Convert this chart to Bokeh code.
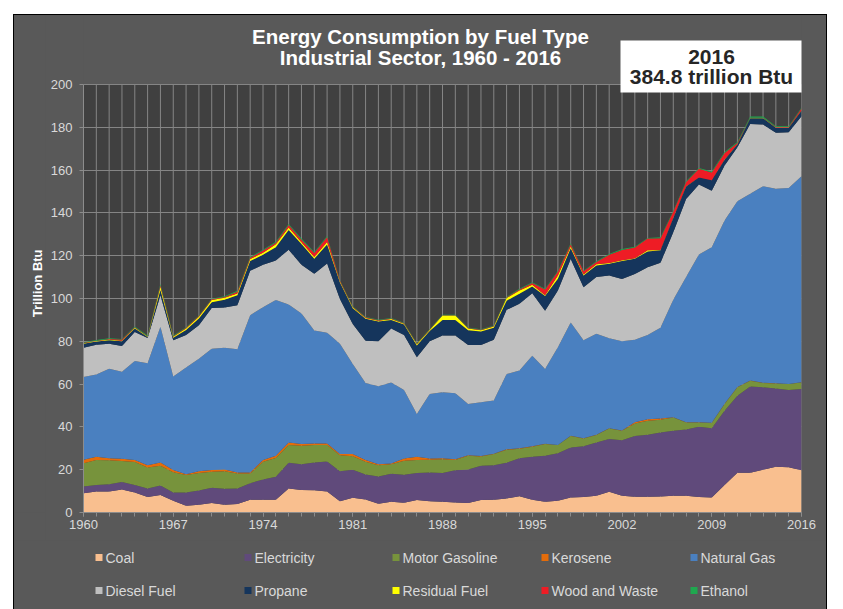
import math
from bokeh.plotting import figure
from bokeh.models import ColumnDataSource, Range1d, FixedTicker, Label, BoxAnnotation, Spacer
from bokeh.layouts import column, row
from bokeh.core.properties import value
from bokeh.embed import file_html
from bokeh.resources import INLINE

years = list(range(1960, 2017))
x_tick_years = list(range(1960, 2017, 7))
y_ticks = list(range(0, 201, 20))

coal = [9.0, 9.8, 9.8, 10.7, 9.4, 7.3, 8.2, 5.5, 3.1, 3.6,
        4.4, 3.6, 4.0, 5.9, 5.9, 5.9, 11.2, 10.5, 10.4, 9.8,
        5.2, 6.9, 6.1, 4.1, 5.0, 4.5, 5.8, 5.3, 5.0, 4.7,
        4.4, 5.8, 5.9, 6.6, 7.6, 5.9, 5.0, 5.5, 7.0, 7.3,
        7.8, 9.7, 7.8, 7.4, 7.4, 7.5, 7.8, 7.8, 7.3, 7.0,
        12.8, 18.6, 18.6, 20.0, 21.4, 21.1, 19.8]
electricity = [3.2, 3.0, 3.4, 3.5, 3.5, 3.9, 4.4, 3.9, 6.3, 6.7,
               7.2, 7.5, 7.2, 7.8, 9.5, 10.8, 12.0, 12.1, 13.0, 14.0,
               14.1, 13.1, 11.7, 12.7, 13.1, 13.1, 12.6, 13.4, 13.4, 15.1,
               15.7, 16.0, 16.2, 16.6, 17.8, 20.1, 21.5, 22.2, 23.4, 23.6,
               24.9, 24.6, 26.0, 28.4, 28.9, 29.9, 30.4, 31.0, 32.8, 32.4,
               34.7, 36.0, 40.3, 38.5, 36.6, 36.2, 37.9]
motor_gasoline = [10.8, 11.7, 11.2, 9.9, 10.7, 9.8, 9.2, 9.4, 8.1, 8.2,
                  7.4, 8.2, 7.0, 4.5, 8.3, 8.8, 8.3, 8.6, 8.1, 7.7,
                  7.5, 6.3, 5.9, 5.3, 4.5, 6.6, 6.1, 6.0, 6.5, 4.7,
                  6.4, 4.4, 5.2, 6.1, 4.4, 4.7, 5.5, 3.8, 5.4, 3.7,
                  3.5, 5.0, 4.4, 5.8, 6.6, 5.9, 6.2, 3.3, 2.0, 2.4,
                  3.2, 3.9, 2.7, 2.0, 2.3, 2.7, 3.1]
kerosene = [1.6, 1.5, 1.0, 1.0, 0.9, 1.1, 1.6, 1.1, 0.4, 0.8,
            0.9, 0.8, 0.5, 0.5, 0.8, 1.0, 1.2, 0.8, 0.8, 0.8,
            0.5, 1.0, 0.8, 0.5, 0.3, 1.0, 1.5, 0.5, 0.4, 0.4,
            0.3, 0.2, 0.2, 0.2, 0.2, 0.2, 0.1, 0.1, 0.1, 0.1,
            0.1, 0.1, 0.1, 0.6, 0.7, 0.6, 0.1, 0.1, 0.1, 0.1,
            0.1, 0.1, 0.1, 0.1, 0.1, 0.1, 0.1]
natural_gas = [38.7, 38.5, 41.8, 40.7, 46.3, 47.7, 63.4, 43.6, 49.9, 52.5,
               56.6, 56.9, 57.6, 73.5, 71.4, 72.8, 64.5, 61.0, 52.7, 51.7,
               51.5, 42.1, 36.0, 36.4, 37.9, 32.1, 20.0, 30.2, 30.9, 30.8,
               23.9, 25.1, 24.8, 35.2, 36.3, 42.4, 35.0, 45.6, 52.9, 45.8,
               47.2, 42.0, 41.7, 38.5, 39.4, 42.4, 54.9, 67.8, 78.4, 82.1,
               85.7, 86.8, 87.3, 91.8, 90.9, 91.5, 96.2]
diesel_fuel = [13.7, 13.9, 11.7, 12.0, 13.6, 11.8, 14.7, 17.0, 15.2, 15.7,
               19.1, 18.8, 20.5, 20.8, 19.9, 18.5, 25.6, 22.8, 26.6, 32.3,
               21.0, 18.7, 19.8, 21.0, 25.2, 25.7, 26.5, 24.6, 26.5, 27.0,
               27.6, 26.8, 28.4, 30.0, 31.2, 29.2, 27.2, 26.5, 29.7, 24.7,
               26.5, 29.3, 29.1, 30.7, 31.6, 30.4, 31.6, 36.5, 32.7, 26.4,
               25.6, 25.3, 32.6, 28.9, 26.2, 26.1, 28.1]
propane = [1.8, 1.5, 1.6, 2.2, 1.6, 0.4, 2.5, 1.2, 2.3, 3.1,
           2.6, 3.6, 4.7, 4.5, 4.6, 6.2, 9.2, 9.7, 7.0, 8.9,
           7.7, 7.4, 10.2, 9.2, 4.0, 4.8, 5.5, 4.8, 7.3, 7.3,
           6.9, 6.3, 5.6, 4.3, 4.7, 3.1, 6.9, 5.5, 5.0, 5.5,
           5.4, 5.5, 8.4, 7.2, 7.4, 5.8, 6.6, 5.8, 3.2, 4.8,
           2.7, 1.3, 2.6, 2.9, 2.3, 2.1, 2.5]
residual_fuel = [0.3, 0.2, 0.3, 0.3, 0.3, 0.2, 1.5, 0.4, 0.7, 0.9,
                 1.1, 0.9, 0.8, 0.9, 1.0, 1.3, 1.2, 0.8, 0.8, 1.2,
                 0.5, 0.4, 0.4, 0.4, 0.4, 0.4, 0.6, 0.5, 2.0, 2.0,
                 0.8, 0.6, 0.6, 1.2, 1.5, 0.8, 0.3, 1.6, 0.8, 0.5,
                 0.6, 0.4, 0.4, 0.2, 0.5, 0.2, 0.1, 0.1, 0.1, 0.1,
                 0.1, 0.1, 0.1, 0.1, 0.1, 0.1, 0.1]
wood_and_waste = [0.2, 0.2, 0.3, 0.5, 0.3, 0.2, 0.7, 0.3, 0.3, 0.3,
                  0.3, 0.4, 0.9, 0.6, 1.0, 0.7, 1.1, 1.2, 1.9, 2.3,
                  0.4, 0.2, 0.3, 0.2, 0.2, 0.2, 0.2, 0.2, 0.2, 0.2,
                  0.2, 0.2, 0.2, 0.3, 0.5, 0.8, 2.7, 1.8, 1.1, 1.5,
                  1.1, 3.9, 4.8, 5.0, 5.5, 5.5, 2.9, 2.0, 4.0, 3.6,
                  3.1, 0.6, 0.2, 0.2, 0.2, 0.2, 1.1]
ethanol = [0.3, 0.3, 0.3, 0.3, 0.3, 0.3, 0.6, 0.3, 0.3, 0.3,
           0.3, 0.3, 0.4, 0.4, 0.4, 0.5, 0.5, 0.5, 0.4, 0.5,
           0.3, 0.3, 0.3, 0.3, 0.3, 0.3, 0.3, 0.3, 0.2, 0.2,
           0.2, 0.2, 0.3, 0.3, 0.3, 0.4, 0.3, 0.4, 0.4, 0.3,
           0.3, 0.3, 0.4, 0.4, 0.3, 0.4, 0.4, 0.4, 0.4, 0.4,
           0.4, 0.4, 0.5, 0.5, 0.4, 0.4, 0.4]

series_names = ["Coal", "Electricity", "Motor Gasoline", "Kerosene", "Natural Gas",
                "Diesel Fuel", "Propane", "Residual Fuel", "Wood and Waste", "Ethanol"]
series_keys = ["coal", "electricity", "motor_gasoline", "kerosene", "natural_gas",
               "diesel_fuel", "propane", "residual_fuel", "wood_and_waste", "ethanol"]
series_colors = ["#F9BF8F", "#604A7B", "#77933C", "#E46C0A", "#4A80C0",
                 "#BFBFBF", "#15355C", "#FFFF00", "#EE1C25", "#1FA84F"]

title_lines = ["Energy Consumption by Fuel Type", "Industrial Sector, 1960 - 2016"]
box_lines = ["2016", "384.8 trillion Btu"]
y_axis_title = "Trillion Btu"

source = ColumnDataSource(dict(
    year=years, coal=coal, electricity=electricity, motor_gasoline=motor_gasoline,
    kerosene=kerosene, natural_gas=natural_gas, diesel_fuel=diesel_fuel,
    propane=propane, residual_fuel=residual_fuel, wood_and_waste=wood_and_waste,
    ethanol=ethanol))

# ---- layout geometry (page pixels) ----
OX, OY = 14, 15                 # top-left of the chart panel
PANEL_R = 826
STRIP_R = 45                    # right edge of the y-title strip
FRAME_L, FRAME_R, FRAME_T, FRAME_B = 83, 801, 84, 512
MAIN_BOTTOM = 540
PAGE_BOTTOM = 609

def X(px):
    return years[0] + (px - FRAME_L) * (years[-1] - years[0]) / (FRAME_R - FRAME_L)

def Y(py):
    return (FRAME_B - py) * y_ticks[-1] / (FRAME_B - FRAME_T)

PANEL_BG = "#595959"
PLOT_BG = "#404040"
GRID = "#858585"
AXIS = "#8C8C8C"
TICK_TXT = "#D9D9D9"
FONT = "Liberation Sans"

def plain(fig):
    fig.title.visible = False
    fig.background_fill_color = PANEL_BG
    fig.border_fill_color = PANEL_BG
    fig.outline_line_color = None

# ---- main chart ----
p = figure(width=PANEL_R - STRIP_R, height=MAIN_BOTTOM - OY,
           x_range=Range1d(years[0], years[-1]), y_range=Range1d(0, Y(OY)),
           output_backend="svg", toolbar_location=None,
           min_border_left=FRAME_L - STRIP_R, min_border_top=0,
           min_border_right=PANEL_R - FRAME_R, min_border_bottom=MAIN_BOTTOM - FRAME_B)
plain(p)

p.quad(left=years[0], right=years[-1], bottom=y_ticks[0], top=y_ticks[-1],
       fill_color=PLOT_BG, line_color=None, level="image")
p.segment(x0=years, y0=[y_ticks[0]] * len(years), x1=years, y1=[y_ticks[-1]] * len(years),
          line_color=GRID, line_width=1, level="underlay")

p.varea_stack(stackers=series_keys, x="year", color=series_colors, source=source)

p.xaxis.ticker = FixedTicker(ticks=x_tick_years, minor_ticks=years)
p.yaxis.ticker = FixedTicker(ticks=y_ticks)
p.yaxis.bounds = (y_ticks[0], y_ticks[-1])
p.xgrid.visible = False
p.ygrid.ticker = FixedTicker(ticks=y_ticks)
p.ygrid.grid_line_color = GRID
p.ygrid.grid_line_width = 1

for ax in (p.xaxis, p.yaxis):
    ax.axis_line_color = AXIS
    ax.major_tick_line_color = AXIS
    ax.minor_tick_line_color = AXIS
    ax.major_tick_in = 0
    ax.major_tick_out = 4
    ax.minor_tick_in = 0
    ax.minor_tick_out = 4
    ax.major_label_text_color = TICK_TXT
    ax.major_label_text_font = FONT
    ax.major_label_text_font_size = "13px"
p.yaxis.minor_tick_line_color = None
p.xaxis.major_label_standoff = 3
p.yaxis.major_label_standoff = 7

for txt, py in zip(title_lines, [36, 57]):
    p.add_layout(Label(x=X(420), y=Y(py), text=txt, text_align="center", text_baseline="middle",
                       text_font=FONT, text_font_style="bold", text_font_size="20.5px",
                       text_color="#FFFFFF"))

p.add_layout(BoxAnnotation(left=X(620), right=X(803), top=Y(40), bottom=Y(92),
                           fill_color="#FFFFFF", fill_alpha=1.0, line_color=None))
for txt, py in zip(box_lines, [56, 76]):
    p.add_layout(Label(x=X(711), y=Y(py), text=txt, text_align="center", text_baseline="middle",
                       text_font=FONT, text_font_style="bold", text_font_size="21px",
                       text_color="#262626"))

# ---- y-axis title strip (page-pixel coordinates, y measured up from MAIN_BOTTOM) ----
st = figure(width=STRIP_R - OX, height=MAIN_BOTTOM - OY,
            x_range=Range1d(OX, STRIP_R), y_range=Range1d(0, MAIN_BOTTOM - OY),
            x_axis_type=None, y_axis_type=None, min_border=0,
            output_backend="svg", toolbar_location=None)
plain(st)
st.grid.visible = False
st.text(x=[37], y=[MAIN_BOTTOM - (FRAME_T + FRAME_B) / 2], text=[y_axis_title], angle=math.pi / 2,
        text_align="center", text_baseline="middle", text_font=value(FONT),
        text_font_style="bold", text_font_size=value("13px"), text_color="#FFFFFF")

# ---- legend strip (page-pixel coordinates) ----
lg = figure(width=PANEL_R - OX, height=PAGE_BOTTOM - MAIN_BOTTOM,
            x_range=Range1d(OX, PANEL_R), y_range=Range1d(PAGE_BOTTOM, MAIN_BOTTOM),
            x_axis_type=None, y_axis_type=None, min_border=0,
            output_backend="svg", toolbar_location=None)
plain(lg)
lg.grid.visible = False

col_x = [95, 244, 392, 541, 690]
row_y = [557, 590]
sw_x = [col_x[i % 5] for i in range(len(series_names))]
sw_y = [row_y[i // 5] for i in range(len(series_names))]
lg.quad(left=sw_x, right=[x + 7 for x in sw_x],
        top=[y - 3.5 for y in sw_y], bottom=[y + 3.5 for y in sw_y],
        fill_color=series_colors, line_color=None)
lg.text(x=[x + 10 for x in sw_x], y=sw_y, text=series_names,
        text_align="left", text_baseline="middle",
        text_font=value(FONT), text_font_size=value("14px"), text_color=TICK_TXT)

panel = column(row(st, p), lg,
               styles={"background-color": PANEL_BG, "box-shadow": "0 0 0 1px #000000"})
layout = column(Spacer(height=OY), row(Spacer(width=OX), panel))
open("out.html", "w").write(file_html(layout, INLINE))
